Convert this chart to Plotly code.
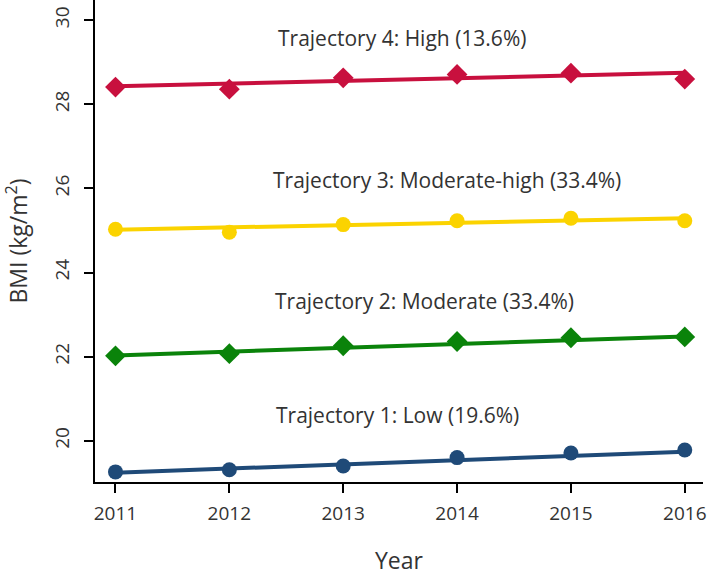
import plotly.graph_objects as go

years = [2011, 2012, 2013, 2014, 2015, 2016]

# Observed BMI means (markers)
low_obs = [19.26, 19.31, 19.40, 19.60, 19.71, 19.78]
moderate_obs = [22.02, 22.07, 22.26, 22.36, 22.45, 22.47]
modhigh_obs = [25.03, 24.96, 25.14, 25.23, 25.29, 25.23]
high_obs = [28.41, 28.36, 28.63, 28.71, 28.74, 28.60]

# Fitted trajectories (lines)
low_fit = [19.24, 19.34, 19.44, 19.54, 19.64, 19.74]
moderate_fit = [22.03, 22.12, 22.21, 22.30, 22.39, 22.48]
modhigh_fit = [25.02, 25.07, 25.13, 25.18, 25.24, 25.29]
high_fit = [28.43, 28.49, 28.56, 28.62, 28.69, 28.75]

labels = ["Trajectory 1: Low (19.6%)", "Trajectory 2: Moderate (33.4%)",
          "Trajectory 3: Moderate-high (33.4%)", "Trajectory 4: High (13.6%)"]
label_x = [2013.48, 2013.71, 2013.91, 2013.52]
label_y = [20.62, 23.33, 26.19, 29.58]

series = [
    (low_obs, low_fit, "#1f4a78", "circle", 15),
    (moderate_obs, moderate_fit, "#0a830a", "diamond", 16),
    (modhigh_obs, modhigh_fit, "#fbd300", "circle", 15),
    (high_obs, high_fit, "#c8103e", "diamond", 16),
]

fig = go.Figure()
for obs, fit, col, sym, sz in series:
    fig.add_trace(go.Scatter(x=years, y=fit, mode="lines",
                             line=dict(color=col, width=4), showlegend=False))
    fig.add_trace(go.Scatter(x=years, y=obs, mode="markers",
                             marker=dict(color=col, symbol=sym, size=sz),
                             showlegend=False))

for t, x, y in zip(labels, label_x, label_y):
    fig.add_annotation(x=x, y=y, text=t, showarrow=False,
                       font=dict(size=21, color="#333333"))

fig.update_layout(
    width=709, height=576,
    margin=dict(l=95, r=6, t=0, b=94),
    plot_bgcolor="white", paper_bgcolor="white",
    font=dict(family="Open Sans, Noto Sans, sans-serif", size=19, color="#333333"),
    xaxis=dict(range=[2010.82, 2016.16], tickvals=years, ticktext=[str(y) for y in years],
               showline=True, linecolor="black", linewidth=1.5, ticks="outside",
               ticklen=9, tickcolor="black", tickwidth=1.5, showgrid=False, zeroline=False,
               automargin=False, ticklabelstandoff=4,
               title=dict(text="Year", standoff=28)),
    yaxis=dict(range=[19.02, 30.48], tickvals=[20, 22, 24, 26, 28, 30], tickangle=-90,
               showline=True, linecolor="black", linewidth=1.5, ticks="outside",
               ticklen=9, tickcolor="black", tickwidth=1.5, showgrid=False, zeroline=False,
               automargin=False, ticklabelstandoff=8,
               title=dict(text="BMI (kg/m<sup>2</sup>)", standoff=18)),
)

fig.write_html("out.html", config={"displayModeBar": False},
               post_script="document.body.style.margin='0';")
